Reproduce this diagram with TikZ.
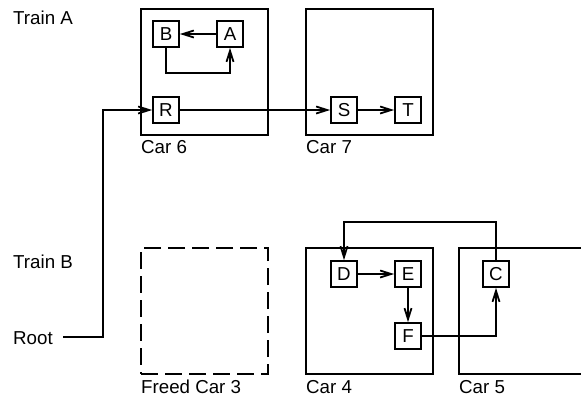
\documentclass[tikz,border=0pt]{standalone}
\usepackage{fontspec}
\setmainfont{Liberation Sans}
\usetikzlibrary{arrows.meta}
\tikzset{
  lw/.style={line width=1.8bp},
  car/.style={draw, lw, minimum width=127bp, minimum height=126bp, inner sep=0pt},
  freed/.style={car, dash pattern=on 17bp off 7bp},
  obj/.style={draw, lw, minimum size=26bp, inner sep=0pt, font=\fontsize{18.8}{20}\selectfont},
  lbl/.style={anchor=west, inner sep=0pt, font=\fontsize{18.8}{20}\selectfont},
  arr/.style={lw, -{Straight Barb[length=11bp,width=7bp]}}
}
\begin{document}
\begin{tikzpicture}[x=1bp,y=-1bp]
\useasboundingbox (0,0) rectangle (581,397);
\clip (0,0) rectangle (581,397);
% labels
\node[lbl] (trainA) at (13,18) {Train A};
\node[lbl] (trainB) at (13,262) {Train B};
\node[lbl] (root) at (13,338) {Root};
% cars
\node[car] (car6) at (204.5,72) {};
\node[car] (car7) at (369.5,72) {};
\node[freed] (car3) at (204.5,311) {};
\node[car] (car4) at (369.5,311) {};
\node[car] (car5) at (522.5,311) {};
\node[lbl] (l6) at (141,147) {Car 6};
\node[lbl] (l7) at (306,147) {Car 7};
\node[lbl] (l3) at (141,387) {Freed Car 3};
\node[lbl] (l4) at (306,387) {Car 4};
\node[lbl] (l5) at (459,387) {Car 5};
% objects
\node[obj] (B) at (166,34) {B};
\node[obj] (A) at (230,34) {A};
\node[obj] (R) at (166,110) {R};
\node[obj] (S) at (344,110) {S};
\node[obj] (T) at (408,110) {T};
\node[obj] (D) at (344,274) {D};
\node[obj] (E) at (408,274) {E};
\node[obj] (F) at (408,336) {F};
\node[obj] (C) at (496,274) {C};
% connectors
\draw[arr] (A) -- (B);
\draw[arr] (B.south) -- ++(0,25) -| (A.south);
\coordinate (r0) at (63,337);
\draw[arr] (r0) -- ++(40,0) |- (R.west);
\draw[arr] (R) -- (S);
\draw[arr] (S) -- (T);
\draw[arr] (D) -- (E);
\draw[arr] (E) -- (F);
\draw[arr] (F.east) -| (C.south);
\draw[arr] (C.north) -- ++(0,-38) -| (D.north);
\end{tikzpicture}
\end{document}
